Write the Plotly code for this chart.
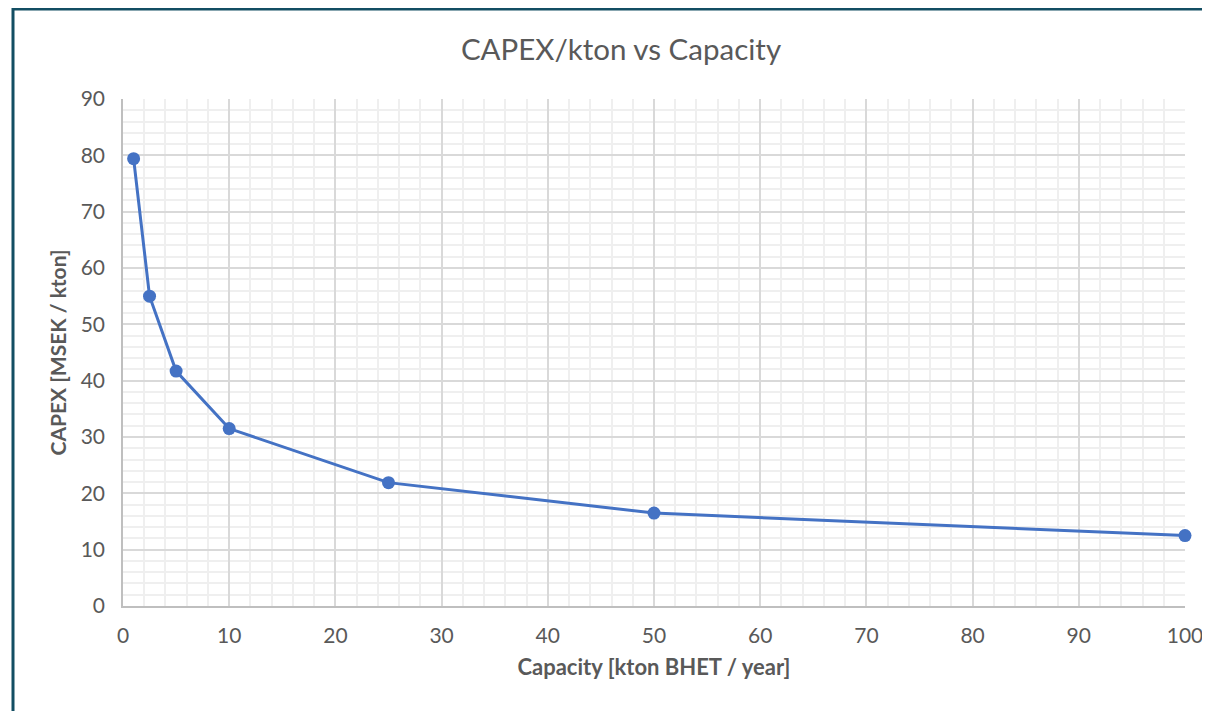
import plotly.graph_objects as go

capacity = [1, 2.5, 5, 10, 25, 50, 100]
capex_per_kton = [79.4, 55.0, 41.7, 31.5, 21.9, 16.5, 12.5]

title_text = "CAPEX/kton vs Capacity"
x_title = "Capacity [kton BHET / year]"
y_title = "CAPEX [MSEK / kton]"

# page body has an 8px margin; figure sized to fit the window
OFF = 8
W, H = 1210 - OFF, 711 - OFF
# target plot area in screen px: x 123..1185, y 99..606
L, R, T, B = 123 - OFF, 1210 - 1185, 99 - OFF, 711 - 606
pw, ph = W - L - R, H - T - B

def sx(px):  # screen px -> paper x
    return (px - OFF - L) / pw

def sy(py):  # screen py -> paper y
    return (H - B - (py - OFF)) / ph

fig = go.Figure()
fig.add_trace(go.Scatter(
    x=capacity, y=capex_per_kton, mode="lines+markers",
    line=dict(color="#4472c4", width=3),
    marker=dict(color="#4472c4", size=13),
    showlegend=False, cliponaxis=False,
))

font_family = "Lato, 'Open Sans', sans-serif"
fig.update_layout(
    width=W, height=H,
    margin=dict(l=L, r=R, t=T, b=B, pad=0, autoexpand=False),
    paper_bgcolor="white", plot_bgcolor="white",
    font=dict(family=font_family, color="#595959"),
    title=dict(text=title_text, x=sx(621), xref="paper", xanchor="center",
               y=1 - (50 - OFF) / H, yanchor="middle",
               font=dict(size=29.5, color="#595959", family=font_family)),
    xaxis=dict(
        range=[0, 100], dtick=10, tick0=0, automargin=False,
        showgrid=True, gridcolor="#d9d9d9", gridwidth=1.5,
        minor=dict(dtick=2, showgrid=True, gridcolor="#efefef", gridwidth=1.5),
        showline=True, linecolor="#bfbfbf", linewidth=1.5,
        zeroline=False, ticks="", ticklabelstandoff=10,
        tickfont=dict(size=21, color="#595959"),
        title=dict(text="<b>" + x_title + "</b>", font=dict(size=22, color="#595959"), standoff=14),
    ),
    yaxis=dict(
        range=[0, 90], dtick=10, tick0=0, automargin=False,
        showgrid=True, gridcolor="#d9d9d9", gridwidth=1.5,
        minor=dict(dtick=2, showgrid=True, gridcolor="#efefef", gridwidth=1.5),
        showline=True, linecolor="#bfbfbf", linewidth=1.5,
        zeroline=False, ticks="", ticklabelstandoff=12,
        tickfont=dict(size=21, color="#595959"),
        title=dict(text="<b>" + y_title + "</b>", font=dict(size=21, color="#595959"), standoff=8),
    ),
    shapes=[
        dict(type="line", xref="paper", yref="paper",
             x0=sx(12), x1=sx(1240),
             y0=sy(9), y1=sy(9),
             line=dict(color="#134e63", width=3), layer="above"),
        dict(type="line", xref="paper", yref="paper",
             x0=sx(13), x1=sx(13),
             y0=sy(8), y1=sy(740),
             line=dict(color="#134e63", width=3), layer="above"),
    ],
)

fig.write_html("out.html")
